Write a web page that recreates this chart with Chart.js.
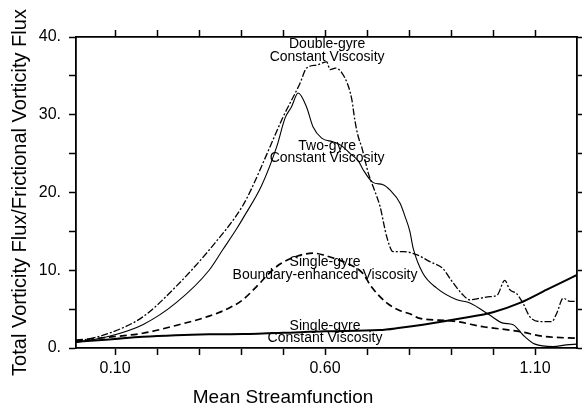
<!DOCTYPE html>
<html><head><meta charset="utf-8">
<script src="https://cdn.jsdelivr.net/npm/chart.js@4"></script>
<style>html,body{margin:0;padding:0;background:#fff}canvas{display:block}</style>
</head><body>
<canvas id="c" width="582" height="409"></canvas>
<script>
// Double-gyre, constant viscosity (dash-dot)
const dgX = [0.007,0.086,0.166,0.245,0.324,0.404,0.425,0.462,0.50,0.54,0.556,0.58,0.604,0.612,0.625,0.64,0.656,0.664,0.671,0.679,0.687,0.695,0.703,0.715,0.731,0.747,0.762,0.786,0.818,0.85,0.881,0.898,0.929,0.945,0.969,0.993,1.01,1.028,1.04,1.056,1.071,1.088,1.112,1.14,1.152,1.167,1.183,1.20];
const dgY = [0.8,1.9,4.0,7.9,12.6,18.3,20.5,25.0,29.7,34.0,36.0,36.4,36.8,35.8,36.0,35.4,33.6,31.9,29.3,27.2,25.9,24.2,22.5,20.7,18.2,14.3,12.4,12.4,12.0,11.1,10.2,8.9,6.8,6.2,6.4,6.6,6.8,8.7,7.5,7.0,5.8,4.0,3.4,3.4,4.5,6.4,6.0,6.0];
// Two-gyre, constant viscosity (thin solid)
const tgX = [0.007,0.086,0.166,0.245,0.324,0.356,0.388,0.407,0.449,0.485,0.505,0.52,0.536,0.556,0.571,0.592,0.62,0.64,0.66,0.68,0.69,0.714,0.738,0.755,0.779,0.79,0.802,0.81,0.833,0.866,0.914,0.945,0.993,1.024,1.048,1.071,1.10,1.143,1.175,1.20];
const tgY = [0.7,1.5,3.0,5.8,10.0,12.6,15.2,16.9,20.9,25.9,29.6,31.0,32.8,31.0,28.5,27.0,26.5,26.0,25.0,24.0,23.0,21.3,21.0,20.3,18.6,17.0,15.0,12.8,9.6,7.7,6.2,5.8,4.2,3.2,3.0,1.7,0.5,0.2,0.4,0.5];
// Single-gyre, boundary-enhanced viscosity (dashed)
const beX = [0.007,0.086,0.166,0.245,0.324,0.374,0.404,0.437,0.465,0.493,0.533,0.571,0.612,0.652,0.69,0.71,0.747,0.779,0.802,0.826,0.90,0.98,1.04,1.065,1.12,1.20];
const beY = [1.0,1.4,1.9,2.9,4.1,5.2,6.2,7.9,9.5,10.8,11.8,12.2,11.7,10.9,9.6,7.9,5.8,4.8,4.4,3.8,3.5,2.7,2.3,2.1,1.5,1.25];
// Single-gyre, constant viscosity (thick solid)
const scX = [0.007,0.086,0.166,0.245,0.324,0.404,0.50,0.60,0.73,0.779,0.833,0.929,1.0,1.064,1.128,1.20];
const scY = [0.8,1.1,1.45,1.65,1.76,1.8,1.95,2.15,2.3,2.6,3.0,3.85,4.6,5.8,7.5,9.4];

const xTickValues = [0.1,0.2,0.3,0.4,0.5,0.6,0.7,0.8,0.9,1.0,1.1];
const xLabelValues = [0.1,0.6,1.1];
const yTickValues = [0,5,10,15,20,25,30,35,40];
const yLabelValues = [0,10,20,30,40];

const noteText = ['Double-gyre','Constant Viscosity','Two-gyre','Constant Viscosity','Single-gyre','Boundary-enhanced Viscosity','Single-gyre','Constant Viscosity'];
const noteX = [0.605,0.605,0.605,0.605,0.60,0.60,0.60,0.60];
const noteY = [39.1,37.4,26.0,24.4,11.06,9.39,2.83,1.29];

const xTitle = 'Mean Streamfunction';
const yTitle = 'Total Vorticity Flux/Frictional Vorticity Flux';

const FONT = '"Liberation Sans", Arial, sans-serif';
const pts = (xs, ys) => xs.map((x, i) => ({x: x, y: ys[i]}));

const notesPlugin = {
  id: 'notes',
  afterDraw(chart) {
    const ctx = chart.ctx, sx = chart.scales.x, sy = chart.scales.y;
    ctx.save();
    ctx.fillStyle = '#000';
    ctx.textAlign = 'center';
    ctx.textBaseline = 'middle';
    ctx.font = '14px ' + FONT;
    noteText.forEach((t, i) => ctx.fillText(t, sx.getPixelForValue(noteX[i]), sy.getPixelForValue(noteY[i])));
    ctx.font = '19px ' + FONT;
    ctx.fillText(xTitle, sx.getPixelForValue(0.5), chart.height - 11);
    ctx.restore();
  }
};

const gridOpts = {drawOnChartArea: false, drawTicks: true, tickLength: 7, tickWidth: 1.5, tickColor: '#000', color: '#000'};
const borderOpts = {display: true, color: '#000', width: 1.8};
const near = (arr, v) => arr.some(a => Math.abs(a - v) < 1e-6);

new Chart(document.getElementById('c'), {
  type: 'line',
  data: {
    datasets: [
      {data: pts(dgX, dgY), borderColor: '#000', borderWidth: 1.3, borderDash: [7, 2, 2, 2]},
      {data: pts(tgX, tgY), borderColor: '#000', borderWidth: 1.1},
      {data: pts(beX, beY), borderColor: '#000', borderWidth: 1.7, borderDash: [7, 4]},
      {data: pts(scX, scY), borderColor: '#000', borderWidth: 2}
    ]
  },
  options: {
    responsive: false,
    animation: false,
    devicePixelRatio: 1,
    layout: {padding: 0},
    elements: {point: {radius: 0}, line: {cubicInterpolationMode: 'monotone', fill: false}},
    plugins: {legend: {display: false}, tooltip: {enabled: false}},
    scales: {
      x: {
        type: 'linear', position: 'bottom', min: 0.007, max: 1.2,
        afterBuildTicks: s => { s.ticks = xTickValues.map(v => ({value: v})); },
        afterFit: s => { s.height = 61; },
        ticks: {autoSkip: false, maxRotation: 0, padding: 4, color: '#000', font: {family: FONT, size: 16},
          callback: v => near(xLabelValues, v) ? v.toFixed(2) : ''},
        grid: gridOpts, border: borderOpts
      },
      x2: {
        type: 'linear', axis: 'x', position: 'top', min: 0.007, max: 1.2,
        afterBuildTicks: s => { s.ticks = xTickValues.map(v => ({value: v})); },
        afterFit: s => { s.height = 37; },
        ticks: {display: false},
        grid: gridOpts, border: borderOpts
      },
      y: {
        type: 'linear', position: 'left', min: 0, max: 40,
        afterBuildTicks: s => { s.ticks = yTickValues.map(v => ({value: v})); },
        afterFit: s => { s.width = 76; },
        ticks: {autoSkip: false, padding: 8, color: '#000', font: {family: FONT, size: 16},
          callback: v => near(yLabelValues, v) ? v + '.' : ''},
        grid: gridOpts, border: borderOpts,
        title: {display: true, text: yTitle, color: '#000', font: {family: FONT, size: 20}, padding: {top: 8, bottom: 0}}
      },
      y2: {
        type: 'linear', axis: 'y', position: 'right', min: 0, max: 40,
        afterBuildTicks: s => { s.ticks = yTickValues.map(v => ({value: v})); },
        afterFit: s => { s.width = 5; },
        ticks: {display: false},
        grid: gridOpts, border: borderOpts
      }
    }
  },
  plugins: [notesPlugin]
});
</script>
</body></html>
